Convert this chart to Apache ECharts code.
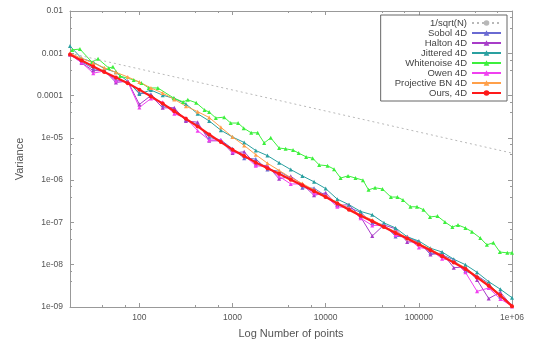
<!DOCTYPE html>
<html><head><meta charset="utf-8">
<script src="https://cdn.jsdelivr.net/npm/echarts@6/dist/echarts.min.js"></script>
<style>html,body{margin:0;padding:0;background:#fff}#c{width:535px;height:340px}</style>
</head><body><div id="c"></div>
<script>
// Shared sample counts (number of points)
const N = [18, 24, 32, 42, 56, 75, 100, 133, 178, 237, 316, 422, 562, 750, 1000, 1334, 1778, 2371, 3162, 4217, 5623, 7499, 10000, 13335, 17783, 23714, 31623, 42170, 56234, 74989, 100000, 133352, 177828, 237137, 316228, 421697, 562341, 749894, 1000000];
// Variance values, stored as base-10 exponents
const sobolExp = [-3.03,-3.20,-3.36,-3.42,-3.63,-3.68,-3.94,-3.97,-4.23,-4.31,-4.57,-4.69,-4.99,-5.05,-5.26,-5.48,-5.50,-5.75,-5.79,-5.95,-6.18,-6.19,-6.37,-6.59,-6.65,-6.76,-7.02,-7.05,-7.33,-7.34,-7.47,-7.72,-7.77,-7.88,-8.15,-8.26,-8.44,-8.76,-8.96];
const haltonExp = [-3.01,-3.23,-3.41,-3.41,-3.69,-3.66,-4.21,-4.00,-4.29,-4.29,-4.60,-4.63,-5.07,-5.07,-5.36,-5.33,-5.63,-5.66,-5.97,-5.91,-6.10,-6.36,-6.30,-6.60,-6.58,-6.87,-7.32,-7.06,-7.15,-7.46,-7.46,-7.76,-7.72,-8.07,-8.05,-8.36,-8.80,-8.65,-8.98];
const jitteredExp = [-2.83,-3.12,-3.21,-3.36,-3.45,-3.66,-3.96,-3.87,-3.99,-4.07,-4.20,-4.43,-4.60,-4.82,-4.98,-5.11,-5.30,-5.42,-5.59,-5.75,-5.90,-6.04,-6.20,-6.45,-6.58,-6.74,-6.82,-7.01,-7.13,-7.34,-7.44,-7.61,-7.70,-7.87,-8.00,-8.18,-8.40,-8.58,-8.78];
const owenExp = [-3.03,-3.22,-3.47,-3.42,-3.65,-3.67,-4.28,-4.07,-4.16,-4.43,-4.53,-4.83,-5.05,-5.05,-5.32,-5.41,-5.66,-5.68,-5.91,-6.09,-6.09,-6.31,-6.38,-6.63,-6.65,-6.90,-7.07,-7.07,-7.30,-7.35,-7.59,-7.64,-7.86,-7.91,-8.18,-8.63,-8.55,-8.81,-8.98];
const projBNExp = [-3.00,-3.12,-3.23,-3.34,-3.45,-3.56,-3.68,-3.82,-3.94,-4.09,-4.25,-4.38,-4.52,-4.75,-4.98,-5.18,-5.40,-5.60,-5.77,-5.94,-6.08,-6.23,-6.38,-6.53,-6.67,-6.82,-6.94,-7.09,-7.22,-7.36,-7.50,-7.63,-7.78,-7.93,-8.07,-8.28,-8.47,-8.71,-8.97];
const oursExp = [-3.03,-3.17,-3.31,-3.44,-3.57,-3.71,-3.86,-4.02,-4.19,-4.37,-4.55,-4.73,-4.92,-5.10,-5.28,-5.43,-5.58,-5.72,-5.85,-5.99,-6.12,-6.26,-6.40,-6.55,-6.70,-6.84,-6.97,-7.11,-7.25,-7.38,-7.52,-7.66,-7.80,-7.95,-8.10,-8.30,-8.50,-8.73,-8.98];
// White noise has its own, denser sample counts
const whiteN = [19,23,31,36,47,52,62,87,105,126,158,234,295,331,407,501,562,661,813,955,1148,1318,1585,1862,2188,2570,3162,3715,4467,5129,6166,7244,8511,10471,12303,14454,17378,20893,25119,28840,33884,40738,50119,58884,67608,81283,95499,112202,131826,158489,190546,229087,263027,316228,371535,457088,537032,630957,741310,891251,1000000];
const whiteExp = [-2.92,-2.90,-3.21,-3.13,-3.35,-3.32,-3.54,-3.63,-3.70,-3.82,-3.82,-4.06,-4.15,-4.10,-4.17,-4.34,-4.39,-4.53,-4.51,-4.65,-4.65,-4.77,-4.88,-4.88,-5.12,-5.00,-5.24,-5.26,-5.29,-5.36,-5.45,-5.48,-5.64,-5.66,-5.74,-5.95,-5.90,-5.95,-6.00,-6.23,-6.18,-6.21,-6.40,-6.40,-6.47,-6.63,-6.63,-6.70,-6.87,-6.85,-6.99,-7.11,-7.06,-7.13,-7.22,-7.37,-7.53,-7.48,-7.70,-7.72,-7.72];
// Reference line endpoints
const refN = [18, 1000000];
const refExp = [-3.00, -5.36];

const seriesNames = ['1/sqrt(N)','Sobol 4D','Halton 4D','Jittered 4D','Whitenoise 4D','Owen 4D','Projective BN 4D','Ours, 4D'];
const xTickLabels = {100:'100',1000:'1000',10000:'10000',100000:'100000',1000000:'1e+06'};
const yTickLabels = ['1e-09','1e-08','1e-07','1e-06','1e-05','0.0001','0.001','0.01'];

const pairs = (xs, es) => xs.map((x, i) => [x, Math.pow(10, es[i])]);
const FONT = 'Liberation Sans';
const axisCol = '#999';

function mkLine(name, xs, es, color, symbol, extra) {
  return Object.assign({
    name, type: 'line', data: pairs(xs, es), symbol, symbolSize: 4,
    lineStyle: { color, width: 1 }, itemStyle: { color }, animation: false, z: 2
  }, extra || {});
}

const series = [
  { name: seriesNames[0], type: 'line', data: pairs(refN, refExp), symbol: 'none',
    lineStyle: { color: '#b8b8b8', width: 1, type: [2, 3] }, itemStyle: { color: '#b8b8b8' }, animation: false },
  mkLine(seriesNames[1], N, sobolExp, '#6a6ad2', 'triangle'),
  mkLine(seriesNames[2], N, haltonExp, '#a83cc8', 'triangle'),
  mkLine(seriesNames[3], N, jitteredExp, '#2aa0a0', 'triangle'),
  mkLine(seriesNames[4], whiteN, whiteExp, '#3cf03c', 'triangle'),
  mkLine(seriesNames[5], N, owenExp, '#f040f0', 'triangle'),
  mkLine(seriesNames[6], N, projBNExp, '#ffa04a', 'triangle'),
  mkLine(seriesNames[7], N, oursExp, '#ff1a1a', 'circle', { symbolSize: 4, lineStyle: { color: '#ff1a1a', width: 2.2 }, z: 5 })
];

const xBase = {
  type: 'log', logBase: 10, min: 18, max: 1000000, splitNumber: 5,
  axisLine: { show: true, lineStyle: { color: axisCol, width: 1 } },
  axisTick: { show: true, inside: true, length: 4, lineStyle: { color: axisCol } },
  minorTick: { show: true, splitNumber: 3, length: 2, lineStyle: { color: axisCol } },
  splitLine: { show: false }, minorSplitLine: { show: false }
};
const yBase = {
  type: 'log', logBase: 10, min: 1e-9, max: 0.01, splitNumber: 8,
  axisLine: { show: true, lineStyle: { color: axisCol, width: 1 } },
  axisTick: { show: true, inside: true, length: 4, lineStyle: { color: axisCol } },
  minorTick: { show: true, splitNumber: 3, length: 2, lineStyle: { color: axisCol } },
  splitLine: { show: false }, minorSplitLine: { show: false }
};

const option = {
  animation: false,
  textStyle: { fontFamily: FONT },
  grid: { left: 70, right: 23, top: 11, bottom: 33, containLabel: false, outerBoundsMode: 'none' },
  xAxis: [
    Object.assign({}, xBase, {
      position: 'bottom',
      name: 'Log Number of points', nameLocation: 'middle', nameGap: 21,
      nameTextStyle: { color: '#555', fontSize: 11, fontFamily: FONT },
      axisLabel: { show: true, color: '#555', fontSize: 8.5, fontFamily: FONT, margin: 6, showMinLabel: false,
        formatter: v => xTickLabels[Math.round(v)] || '' }
    }),
    Object.assign({}, xBase, { position: 'top', axisLabel: { show: false } })
  ],
  yAxis: [
    Object.assign({}, yBase, {
      position: 'left',
      name: 'Variance', nameLocation: 'middle', nameGap: 45,
      nameTextStyle: { color: '#555', fontSize: 11, fontFamily: FONT },
      axisLabel: { show: true, color: '#555', fontSize: 8.5, fontFamily: FONT, margin: 7,
        formatter: v => { const k = Math.round(Math.log10(v)) + 9; return yTickLabels[k] || ''; } }
    }),
    Object.assign({}, yBase, { position: 'right', axisLabel: { show: false } })
  ],
  legend: {
    orient: 'vertical', right: 28, top: 15, align: 'right',
    data: seriesNames,
    itemWidth: 29, itemHeight: 7, itemGap: 0,
    padding: [3, 5, 3, 14],
    borderColor: '#666', borderWidth: 1, backgroundColor: '#fff',
    textStyle: { fontSize: 9.5, lineHeight: 9, color: '#444', fontFamily: FONT },
    selectedMode: false
  },
  series
};
const chart = echarts.init(document.getElementById('c'), null, { renderer: 'canvas' });
chart.setOption(option);
</script>
</body></html>
